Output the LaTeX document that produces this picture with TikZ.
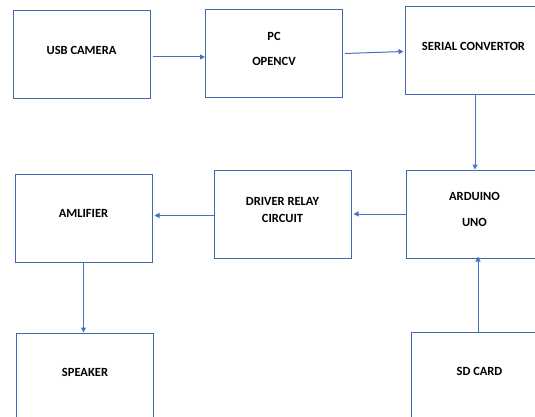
\documentclass[tikz,border=0pt]{standalone}
\usepackage{fontspec}
\setmainfont{Carlito}
\usepackage{tikz}
\usetikzlibrary{arrows.meta}
\definecolor{boxblue}{HTML}{4068AD}
\definecolor{arrblue}{HTML}{4472C4}
\tikzset{
  blk/.style={draw=boxblue, line width=1pt, minimum width=137pt, minimum height=88pt, inner sep=0pt},
  txt/.style={font=\fontsize{12.5}{15}\selectfont\bfseries, align=center, yshift=5pt},
  arr/.style={draw=arrblue, line width=1pt, -{Triangle[length=5pt,width=5pt]}}
}
\begin{document}
\begin{tikzpicture}[x=1pt,y=-1pt]
	\useasboundingbox (0,0) rectangle (535,417);
	\clip (0,0) rectangle (535,417);
	% blocks
	\node[blk, label={[txt]center:USB CAMERA}] (usb) at (81.5,55) {};
	\node[blk, label={[txt]center:PC\\[10pt]OPENCV}] (pc) at (274,53.5) {};
	\node[blk, label={[txt]center:SERIAL CONVERTOR}] (serial) at (473.5,51) {};
	\node[blk, label={[txt]center:ARDUINO\\[11pt]UNO}] (arduino) at (474.5,214) {};
	\node[blk, label={[txt]center:DRIVER RELAY\\[2pt]CIRCUIT}] (driver) at (282.5,214.5) {};
	\node[blk, label={[txt]center:AMLIFIER}] (amp) at (83.5,218) {};
	\node[blk, label={[txt]center:SPEAKER}] (speaker) at (85,377) {};
	\node[blk, label={[txt]center:SD CARD}] (sd) at (479.5,376) {};
	% connectors
	\draw[arr] ([xshift=2pt,yshift=-2pt]usb.east) -- ([yshift=-2pt]usb.east -| pc.west);
	\draw[arr] ([xshift=2pt]pc.east) -- ([xshift=-1pt,yshift=2pt]pc.east -| serial.west);
	\draw[arr] ([xshift=1.5pt,yshift=1pt]serial.south) -- ([xshift=1.5pt]serial.south |- arduino.north);
	\draw[arr] (arduino.west) -- ([xshift=2pt]arduino.west -| driver.east);
	\draw[arr] ([yshift=-1pt]driver.west) -- ([xshift=2pt,yshift=-1pt]driver.west -| amp.east);
	\draw[arr] ([yshift=1pt]amp.south) -- (amp.south |- speaker.north);
	\draw[arr] ([xshift=-1.5pt,yshift=-1pt]sd.north) -- ([xshift=-1.5pt,yshift=2pt]sd.north |- arduino.south);
\end{tikzpicture}
\end{document}
